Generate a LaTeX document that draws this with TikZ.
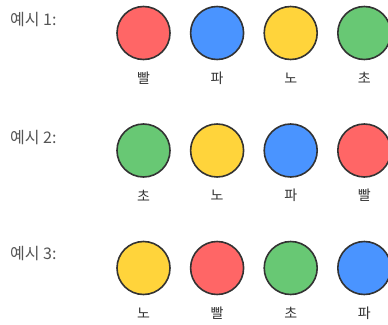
\documentclass[tikz,border=0pt]{standalone}
\usepackage{fontspec}
\setmainfont{Noto Sans CJK KR}
\usetikzlibrary{positioning}
\definecolor{ballred}{HTML}{FF6666}
\definecolor{ballblue}{HTML}{4A94FF}
\definecolor{ballyellow}{HTML}{FFD43B}
\definecolor{ballgreen}{HTML}{68C874}
\definecolor{ballline}{HTML}{333333}
\definecolor{rowgray}{HTML}{555555}

\begin{document}
\begin{tikzpicture}[x=1pt,y=-1pt,
  ball/.style={circle,draw=ballline,line width=1.6pt,minimum size=53pt,inner sep=0pt},
  colorlbl/.style={font=\fontsize{14}{14}\selectfont,text=black!80,inner sep=0pt},
  examplelbl/.style={font=\fontsize{16}{16}\selectfont,text=rowgray,anchor=west,inner sep=0pt}
]
\useasboundingbox (0,0) rectangle (388,324);
\clip (0,0) rectangle (388,324);

% example 1
\node[examplelbl] (ex1) at (10,20) {예시 1:};
\node[ball,fill=ballred] (a1) at (143.5,33) {};
\node[ball,fill=ballblue,right=19pt of a1] (a2) {};
\node[ball,fill=ballyellow,right=19pt of a2] (a3) {};
\node[ball,fill=ballgreen,right=19pt of a3] (a4) {};
\node[colorlbl] (la1) at ([yshift=-45pt]a1) {빨};
\node[colorlbl] (la2) at ([yshift=-45pt]a2) {파};
\node[colorlbl] (la3) at ([yshift=-45pt]a3) {노};
\node[colorlbl] (la4) at ([yshift=-45pt]a4) {초};

% example 2
\node[examplelbl] (ex2) at (10,137.5) {예시 2:};
\node[ball,fill=ballgreen] (b1) at (143.5,150.5) {};
\node[ball,fill=ballyellow,right=19pt of b1] (b2) {};
\node[ball,fill=ballblue,right=19pt of b2] (b3) {};
\node[ball,fill=ballred,right=19pt of b3] (b4) {};
\node[colorlbl] (lb1) at ([yshift=-45pt]b1) {초};
\node[colorlbl] (lb2) at ([yshift=-45pt]b2) {노};
\node[colorlbl] (lb3) at ([yshift=-45pt]b3) {파};
\node[colorlbl] (lb4) at ([yshift=-45pt]b4) {빨};

% example 3
\node[examplelbl] (ex3) at (10,254) {예시 3:};
\node[ball,fill=ballyellow] (c1) at (143.5,268) {};
\node[ball,fill=ballred,right=19pt of c1] (c2) {};
\node[ball,fill=ballgreen,right=19pt of c2] (c3) {};
\node[ball,fill=ballblue,right=19pt of c3] (c4) {};
\node[colorlbl] (lc1) at ([yshift=-45pt]c1) {노};
\node[colorlbl] (lc2) at ([yshift=-45pt]c2) {빨};
\node[colorlbl] (lc3) at ([yshift=-45pt]c3) {초};
\node[colorlbl] (lc4) at ([yshift=-45pt]c4) {파};
\end{tikzpicture}
\end{document}
